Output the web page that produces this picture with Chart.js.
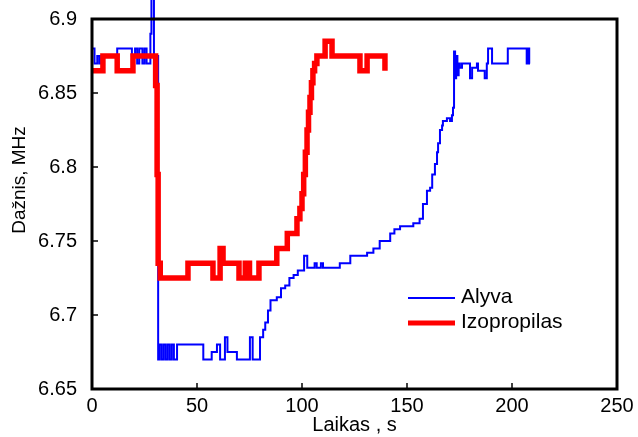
<!DOCTYPE html>
<html>
<head>
<meta charset="utf-8">
<script src="https://cdn.jsdelivr.net/npm/chart.js@4"></script>
<style>
  body { margin: 0; background: #fff; }
  #wrap { width: 638px; height: 437px; position: relative; }
</style>
</head>
<body>
<div id="wrap"><canvas id="myChart"></canvas></div>
<script>
// time (s) where the reading changes, and the new reading (MHz)
var alyvaT = [0, 1.2, 2.5, 3.5, 4.5, 12, 19, 20.5, 21.5, 22.5, 24, 25, 26, 27.8, 28.3, 29.5,
  31.5, 32, 33, 34, 35, 36, 37, 38, 39, 40.5, 53, 57, 59.5, 61, 63.3, 64.5, 69, 75.2, 76.5,
  80, 81.5, 82.5, 83.8, 85, 88, 90, 92, 94, 96, 98, 101, 102.5, 106, 107, 109, 110, 118, 123,
  131, 134, 137, 142, 144, 146.7, 153, 156, 157.6, 159.5, 161, 162, 163.3, 164.3, 164.8, 165.7,
  166.7, 167.1, 169, 170.5, 171.4, 171.9, 172.4, 172.9, 173.4, 174, 174.6, 175.2, 176.2, 180,
  181, 183.3, 183.8, 187, 188, 188.6, 190.5, 198, 207, 207.7, 208.2, 208.6];
var alyvaF = [6.88, 6.87, 6.875, 6.87, 6.875, 6.88, 6.875, 6.88, 6.87, 6.88, 6.87, 6.88, 6.87, 6.89, 6.915, 6.875,
  6.67, 6.68, 6.67, 6.68, 6.67, 6.68, 6.67, 6.68, 6.67, 6.68, 6.67, 6.675, 6.68, 6.67, 6.685, 6.675, 6.67, 6.685, 6.67,
  6.685, 6.69, 6.695, 6.703, 6.71, 6.712, 6.718, 6.72, 6.725, 6.727, 6.73, 6.74, 6.732, 6.735, 6.732, 6.735, 6.732, 6.735, 6.74,
  6.742, 6.745, 6.75, 6.755, 6.758, 6.76, 6.762, 6.765, 6.775, 6.784, 6.786, 6.795, 6.802, 6.81, 6.816, 6.825,
  6.828, 6.831, 6.833, 6.831, 6.835, 6.84, 6.878, 6.86, 6.875, 6.862, 6.87, 6.867, 6.87, 6.86,
  6.867, 6.87, 6.865, 6.86, 6.87, 6.88, 6.87, 6.88, 6.87, 6.88, 6.87, 6.87];

var izoT = [0, 5.2, 12, 19.5, 30, 30.3, 31, 31.5, 32.5, 45.7, 57.6, 61, 62.4, 70, 73, 75, 79.5, 88, 93,
  97.6, 99, 100, 100.8, 101.6, 102.4, 103.1, 103.8, 104.5, 105.2, 106, 107.1, 111, 114.3, 127.6, 131, 139.5];
var izoF = [6.865, 6.875, 6.865, 6.875, 6.875, 6.855, 6.795, 6.735, 6.725, 6.735, 6.725, 6.745, 6.735, 6.725, 6.735, 6.725, 6.735, 6.745, 6.755,
  6.765, 6.772, 6.782, 6.795, 6.81, 6.825, 6.837, 6.847, 6.857, 6.865, 6.87, 6.875, 6.885, 6.875, 6.865, 6.875, 6.865];

var xTicks = [0, 50, 100, 150, 200, 250];
var yTicks = [6.65, 6.7, 6.75, 6.8, 6.85, 6.9];

function pts(t, f) {
  return t.map(function (v, i) { return { x: v, y: f[i] }; });
}

var FONT = "'Liberation Sans', Arial, sans-serif";

var framePlugin = {
  id: 'frame',
  afterDraw: function (chart) {
    var ctx = chart.ctx, a = chart.chartArea;
    var sx = chart.scales.x, sy = chart.scales.y;
    ctx.save();
    ctx.strokeStyle = '#000';
    ctx.lineWidth = 1.5;
    xTicks.slice(1, -1).forEach(function (v) {
      var p = sx.getPixelForValue(v);
      ctx.beginPath(); ctx.moveTo(p, a.bottom); ctx.lineTo(p, a.bottom - 6); ctx.stroke();
    });
    yTicks.slice(1, -1).forEach(function (v) {
      var p = sy.getPixelForValue(v);
      ctx.beginPath(); ctx.moveTo(a.left, p); ctx.lineTo(a.left + 6, p); ctx.stroke();
    });
    ctx.lineWidth = 3;
    ctx.strokeRect(a.left, a.top, a.right - a.left, a.bottom - a.top);

    // legend
    ctx.lineWidth = 2;
    ctx.strokeStyle = '#0000ff';
    ctx.beginPath(); ctx.moveTo(408, 298); ctx.lineTo(455, 298); ctx.stroke();
    ctx.lineWidth = 5;
    ctx.strokeStyle = '#ff0000';
    ctx.beginPath(); ctx.moveTo(408, 323); ctx.lineTo(455, 323); ctx.stroke();
    ctx.fillStyle = '#000';
    ctx.font = '21px ' + FONT;
    ctx.textBaseline = 'middle';
    ctx.fillText('Alyva', 461, 297);
    ctx.fillText('Izopropilas', 461, 322);

    // y title
    ctx.translate(20, 180);
    ctx.rotate(-Math.PI / 2);
    ctx.textAlign = 'center';
    ctx.font = '19px ' + FONT;
    ctx.fillText('Dažnis, MHz', 0, 0);
    ctx.restore();
  }
};

var ctx = document.getElementById('myChart');
var chart = new Chart(ctx, {
  type: 'line',
  data: {
    datasets: [{
      label: 'Alyva',
      data: pts(alyvaT, alyvaF),
      borderColor: '#0000ff',
      borderWidth: 2,
      stepped: 'before',
      pointRadius: 0,
      fill: false,
      clip: false,
      order: 2
    }, {
      label: 'Izopropilas',
      data: pts(izoT, izoF),
      borderColor: '#ff0000',
      borderWidth: 5.5,
      stepped: 'before',
      pointRadius: 0,
      fill: false,
      order: 1
    }]
  },
  options: {
    responsive: true,
    maintainAspectRatio: false,
    animation: false,
    layout: { padding: { left: 0, right: 21, top: 18, bottom: 0 } },
    plugins: { legend: { display: false }, tooltip: { enabled: false } },
    scales: {
      x: {
        type: 'linear',
        min: 0, max: 250,
        grid: { display: false },
        border: { display: false },
        ticks: { stepSize: 50, padding: -3, color: '#000', font: { family: FONT, size: 20 } },
        title: { display: true, text: 'Laikas , s', color: '#000', padding: { top: 0, bottom: 0 }, font: { family: FONT, size: 20 } },
        afterFit: function (s) { s.height = 48; }
      },
      y: {
        min: 6.65, max: 6.9,
        grid: { display: false },
        border: { display: false },
        ticks: {
          stepSize: 0.05, padding: 7, color: '#000', font: { family: FONT, size: 20 },
          callback: function (v) { return String(parseFloat(v.toFixed(2))); }
        },
        afterFit: function (s) { s.width = 92; }
      }
    }
  },
  plugins: [framePlugin]
});
</script>
</body>
</html>
